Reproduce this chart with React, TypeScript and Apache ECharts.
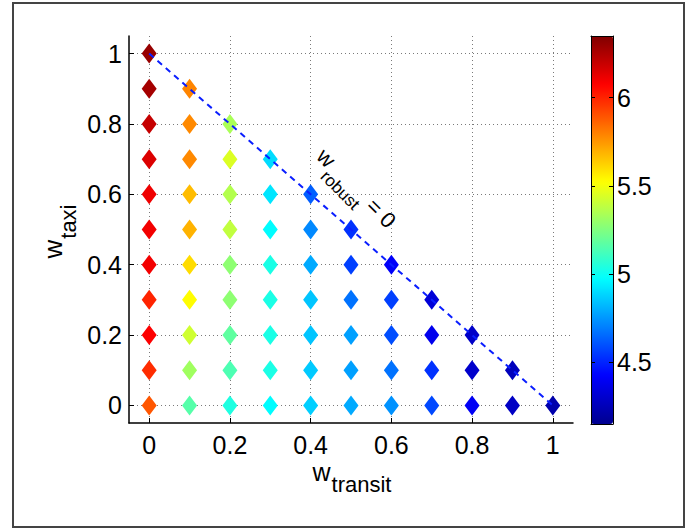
import React, { useEffect, useRef } from "react";
import * as echarts from "echarts";

// ---- data ----
const xTickValues = [0, 0.2, 0.4, 0.6, 0.8, 1];
const yTickValues = [0, 0.2, 0.4, 0.6, 0.8, 1];
const colorbarTickValues = [4.5, 5, 5.5, 6];

const wTransitValues = [0, 0.1, 0.2, 0.3, 0.4, 0.5, 0.6, 0.7, 0.8, 0.9, 1];
const wTaxiValues = [0, 0.1, 0.2, 0.3, 0.4, 0.5, 0.6, 0.7, 0.8, 0.9, 1];

// value at each w_taxi (from 0 upward) for a given w_transit column
const costTransit00 = [5.89, 5.98, 6.08, 6.0, 6.1, 6.1, 6.11, 6.15, 6.2, 6.27, 6.3];
const costTransit01 = [5.16, 5.32, 5.42, 5.53, 5.6, 5.69, 5.67, 5.78, 5.78, 5.79];
const costTransit02 = [5.04, 5.14, 5.18, 5.28, 5.28, 5.39, 5.36, 5.45, 5.34];
const costTransit03 = [4.97, 5.03, 5.03, 5.03, 5.03, 4.97, 4.92, 4.9];
const costTransit04 = [4.87, 4.86, 4.85, 4.85, 4.79, 4.72, 4.63];
const costTransit05 = [4.79, 4.77, 4.77, 4.67, 4.56, 4.53];
const costTransit06 = [4.74, 4.67, 4.59, 4.56, 4.41];
const costTransit07 = [4.58, 4.53, 4.38, 4.33];
const costTransit08 = [4.4, 4.3, 4.29];
const costTransit09 = [4.28, 4.26];
const costTransit10 = [4.22];

const costColumns = [
  costTransit00, costTransit01, costTransit02, costTransit03, costTransit04,
  costTransit05, costTransit06, costTransit07, costTransit08, costTransit09, costTransit10,
];

const colorMin = 4.15;
const colorMax = 6.35;
const jetColors = [
  "#00008f", "#0000ff", "#0080ff", "#00ffff", "#80ff80",
  "#ffff00", "#ff8000", "#ff0000", "#800000",
];

const boundaryLine = [
  [0, 1],
  [1, 0],
];

const FONT = "'Liberation Sans', Arial, Helvetica, sans-serif";

function textWidth(text: string, size: number): number {
  const ctx = document.createElement("canvas").getContext("2d");
  if (!ctx) return text.length * size * 0.55;
  ctx.font = `${size}px ${FONT}`;
  return ctx.measureText(text).width;
}

// base text + subscript (+ optional tail), laid out on a baseline at local y = 0
function subscriptChildren(
  base: string,
  sub: string,
  tail: string,
  baseSize: number,
  subSize: number,
  subDrop: number
) {
  const wBase = textWidth(base, baseSize);
  const wSub = textWidth(sub, subSize);
  const mk = (text: string, x: number, baseline: number, size: number) => ({
    type: "text",
    x,
    y: baseline - 0.35 * size,
    style: {
      text,
      fontSize: size,
      fontFamily: FONT,
      lineHeight: Math.round(size * 0.75),
      fill: "#000",
      align: "left",
      verticalAlign: "middle",
    },
  });
  const children: any[] = [mk(base, 0, 0, baseSize), mk(sub, wBase + 1, subDrop, subSize)];
  if (tail) children.push(mk(tail, wBase + 1 + wSub, 0, baseSize));
  const total = wBase + 1 + wSub + (tail ? textWidth(tail, baseSize) : 0);
  return { children, total };
}

export default function App() {
  const ref = useRef<HTMLDivElement>(null);

  useEffect(() => {
    if (!ref.current) return;
    const chart = echarts.init(ref.current, undefined, { renderer: "svg" });

    const points: number[][] = [];
    costColumns.forEach((col, i) => {
      col.forEach((v, j) => {
        points.push([wTransitValues[i], wTaxiValues[j], v]);
      });
    });

    const gridLeft = 129;
    const gridTop = 36;
    const gridWidth = 444;
    const gridHeight = 387;

    const xTitle = subscriptChildren("w", "transit", "", 25, 22, 11);
    const yTitle = subscriptChildren("w", "taxi", "", 26, 22, 14);
    const note = subscriptChildren("w", "robust", " = 0", 22, 17, 11);

    const axisLineStyle = { color: "#000", width: 1.5 };
    const gridLine = { show: true, lineStyle: { color: "#7a7a7a", type: [1, 3], width: 1 } };

    chart.setOption({
      animation: false,
      backgroundColor: "#fff",
      textStyle: { fontFamily: FONT },
      graphic: [
        {
          type: "rect",
          shape: { x: 13, y: 3, width: 671, height: 524 },
          style: { fill: "none", stroke: "#444", lineWidth: 2 },
          z: 100,
        },
        {
          type: "group",
          x: gridLeft + gridWidth / 2 - xTitle.total / 2 + 1,
          y: 481,
          children: xTitle.children,
          z: 100,
        },
        {
          type: "group",
          x: 62,
          y: gridTop + gridHeight / 2 + yTitle.total / 2 + 2,
          rotation: Math.PI / 2,
          children: yTitle.children,
          z: 100,
        },
        {
          type: "group",
          x: 315,
          y: 158,
          rotation: -Math.PI / 4,
          children: note.children,
          z: 100,
        },
      ],
      grid: [
        { left: gridLeft, top: gridTop, width: gridWidth, height: gridHeight },
        { left: 591, top: 36, width: 22, height: 388 },
      ],
      xAxis: [
        {
          type: "value",
          gridIndex: 0,
          min: -0.05,
          max: 1.05,
          axisLine: { show: true, onZero: false, lineStyle: axisLineStyle },
          axisTick: { show: true, inside: true, length: 5, customValues: xTickValues, lineStyle: { color: "#000" } },
          axisLabel: {
            customValues: xTickValues, fontSize: 25, lineHeight: 20, color: "#000", margin: 12, fontFamily: FONT,
          },
          splitLine: gridLine,
        },
        {
          type: "value", gridIndex: 1, min: 0, max: 1, position: "bottom", z: 10,
          axisLine: { show: true, onZero: false, lineStyle: { color: "#000", width: 1 } },
          axisTick: { show: false }, axisLabel: { show: false }, splitLine: { show: false },
        },
        {
          type: "value", gridIndex: 1, min: 0, max: 1, position: "top", z: 10,
          axisLine: { show: true, onZero: false, lineStyle: { color: "#000", width: 1 } },
          axisTick: { show: false }, axisLabel: { show: false }, splitLine: { show: false },
        },
      ],
      yAxis: [
        {
          type: "value",
          gridIndex: 0,
          min: -0.05,
          max: 1.05,
          axisLine: { show: true, onZero: false, lineStyle: axisLineStyle },
          axisTick: { show: true, inside: true, length: 5, customValues: yTickValues, lineStyle: { color: "#000" } },
          axisLabel: { customValues: yTickValues, fontSize: 25, color: "#000", margin: 7, fontFamily: FONT },
          splitLine: gridLine,
        },
        {
          type: "value", gridIndex: 1, min: colorMin, max: colorMax, position: "left", z: 10,
          axisLine: { show: true, onZero: false, lineStyle: { color: "#000", width: 1 } },
          axisTick: { show: true, inside: true, length: 4, customValues: colorbarTickValues, lineStyle: { color: "#000" } },
          axisLabel: { show: false, customValues: colorbarTickValues },
          splitLine: { show: false },
        },
        {
          type: "value", gridIndex: 1, min: colorMin, max: colorMax, position: "right", z: 10,
          axisLine: { show: true, onZero: false, lineStyle: { color: "#000", width: 1 } },
          axisTick: { show: true, inside: true, length: 4, customValues: colorbarTickValues, lineStyle: { color: "#000" } },
          axisLabel: { customValues: colorbarTickValues, fontSize: 25, color: "#000", margin: 4, fontFamily: FONT },
          splitLine: { show: false },
        },
      ],
      visualMap: {
        type: "continuous",
        min: colorMin,
        max: colorMax,
        dimension: 2,
        seriesIndex: 0,
        calculable: false,
        hoverLink: false,
        orient: "vertical",
        left: 591,
        top: 36,
        itemWidth: 22,
        itemHeight: 388,
        padding: 0,
        z: 2,
        inRange: { color: jetColors },
      },
      series: [
        {
          type: "scatter",
          xAxisIndex: 0,
          yAxisIndex: 0,
          symbol: "diamond",
          symbolSize: [15, 20],
          itemStyle: { opacity: 1 },
          data: points,
          z: 3,
        },
        {
          type: "line",
          xAxisIndex: 0,
          yAxisIndex: 0,
          data: boundaryLine,
          symbol: "none",
          lineStyle: { color: "#0a1eff", width: 2, type: [6, 5] },
          z: 5,
        },
      ],
    });

    return () => chart.dispose();
  }, []);

  return (
    <div
      ref={ref}
      style={{ position: "fixed", left: 0, top: 0, width: 694, height: 529, background: "#fff" }}
    />
  );
}
